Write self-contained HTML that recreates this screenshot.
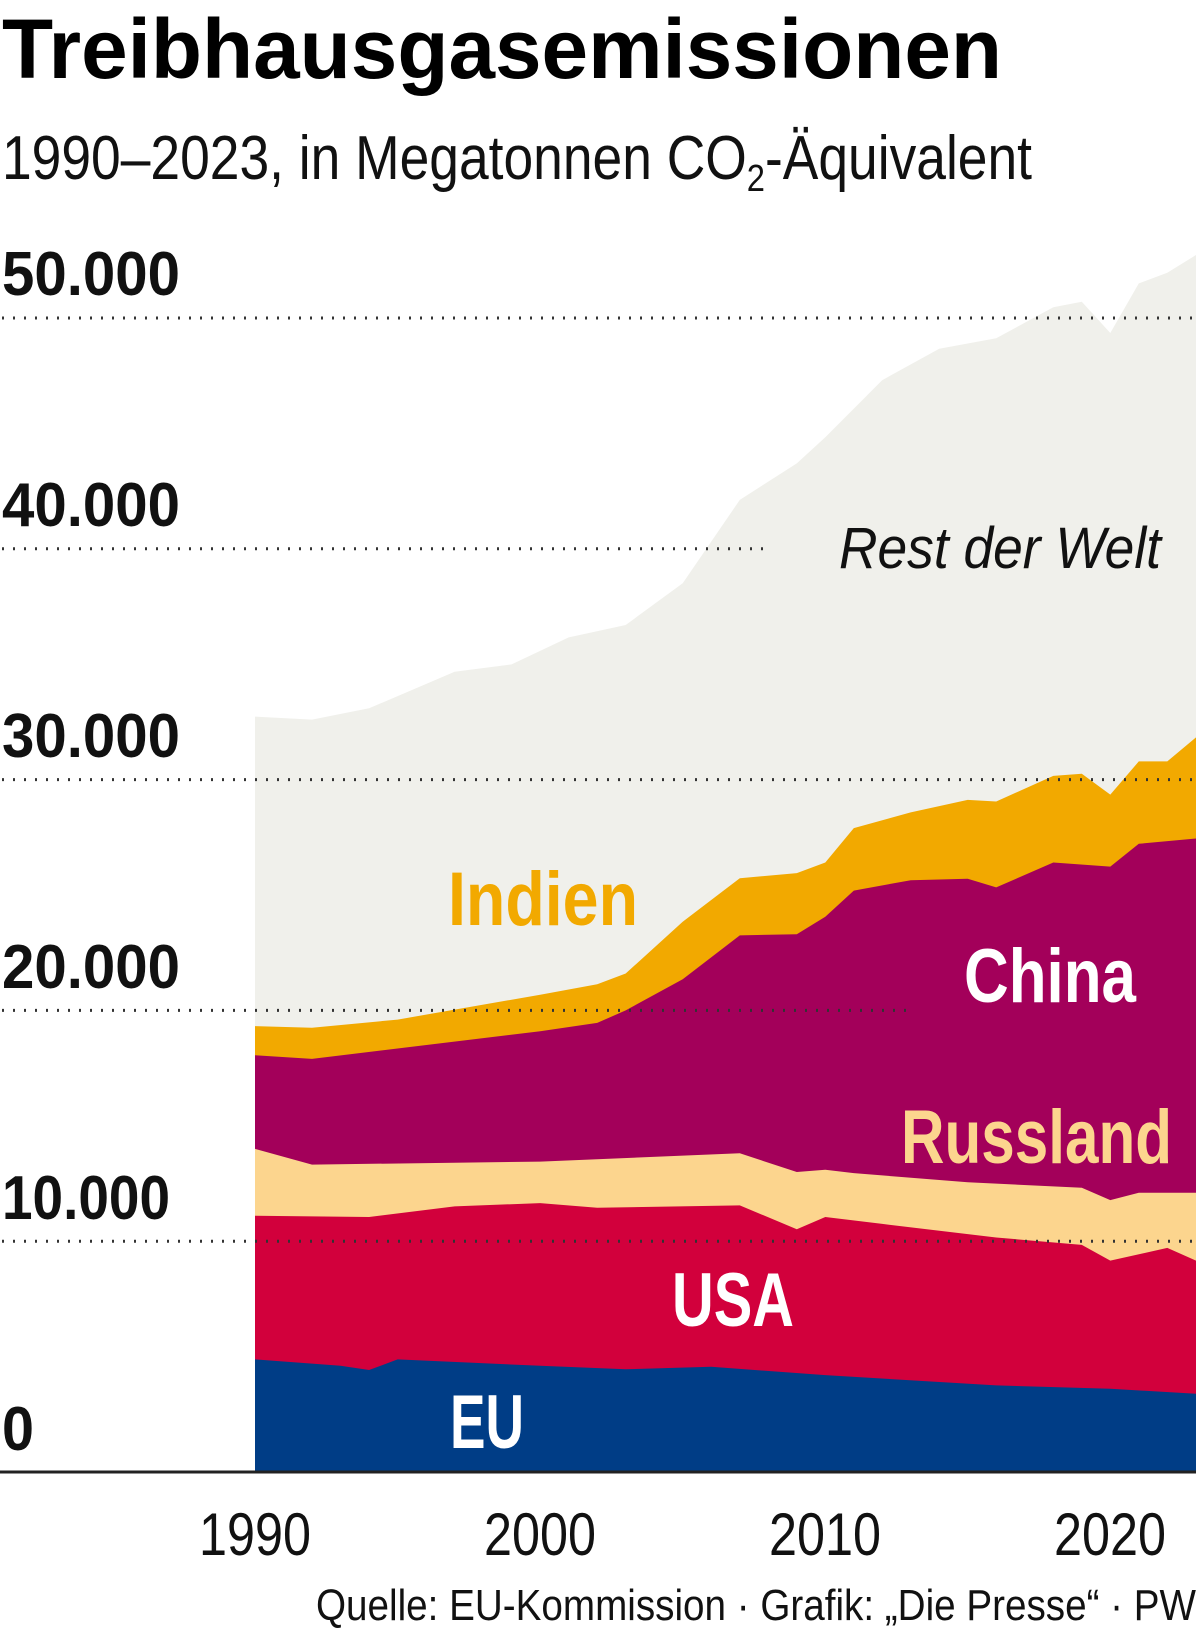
<!DOCTYPE html>
<html><head><meta charset="utf-8"><style>
html,body{margin:0;padding:0;background:#fff;}
svg{display:block;font-family:"Liberation Sans",sans-serif;}
</style></head><body>
<svg width="1200" height="1633" viewBox="0 0 1200 1633" xmlns="http://www.w3.org/2000/svg">
<text x="2" y="78" font-size="84" font-weight="bold" textLength="1000" lengthAdjust="spacingAndGlyphs">Treibhausgasemissionen</text>
<text x="2" y="179" font-size="62" textLength="1030" lengthAdjust="spacingAndGlyphs" fill="#111">1990–2023, in Megatonnen CO<tspan font-size="38" dy="12">2</tspan><tspan dy="-12">-Äquivalent</tspan></text>

<path fill="#f0f0eb" d="M255,1472 L255,716.6 L312,719.6 L369.1,708.3 L454.6,671.8 L511.6,664.4 L568.7,637.4 L625.7,625 L682.7,583.2 L739.8,499.9 L796.8,463.4 L825.3,437.3 L882.3,380.1 L939.2,348.7 L996.2,338.3 L1053.3,307.2 L1081.8,301.8 L1110.3,333 L1138.8,283.4 L1167.3,272.8 L1196,255 L1196,1472Z"/>
<path fill="#f2a900" d="M255,1472 L255,1026.1 L312,1027.7 L397.6,1019.6 L540.2,994.7 L597.2,984.3 L625.7,973.5 L682.7,921.8 L739.8,878.2 L796.8,873.1 L825.3,862.5 L853.8,828.1 L910.7,812.4 L967.7,799.9 L996.2,801.5 L1053.3,775.9 L1081.8,773.8 L1110.3,794.6 L1138.8,761.4 L1167.3,761.4 L1196,737.4 L1196,1472Z"/>
<path fill="#a3005a" d="M255,1472 L255,1055.2 L312,1058.9 L540.2,1031.2 L597.2,1022.9 L625.7,1010.4 L682.7,979.2 L739.8,935.4 L796.8,934.2 L825.3,916.7 L853.8,890.6 L910.7,880.2 L967.7,878.8 L996.2,887.4 L1053.3,862.5 L1110.3,866.6 L1138.8,843.8 L1196,838.5 L1196,1472Z"/>
<path fill="#fcd58e" d="M255,1472 L255,1148.9 L312,1164.6 L540.2,1161.6 L739.8,1153.3 L796.8,1172 L825.3,1169.7 L853.8,1173.1 L967.7,1182.3 L1081.8,1187.7 L1110.3,1200.1 L1138.8,1192.7 L1196,1192.7 L1196,1472Z"/>
<path fill="#d2003c" d="M255,1472 L255,1215.8 L369.1,1217 L454.6,1206.4 L540.2,1203.1 L597.2,1207.7 L739.8,1205.4 L796.8,1229.2 L825.3,1217 L882.3,1223.9 L996.2,1237.5 L1081.8,1244.9 L1110.3,1260.6 L1167.3,1247.9 L1196,1260.6 L1196,1472Z"/>
<path fill="#003d86" d="M255,1472 L255,1359.4 L340.5,1365.8 L369.1,1370 L397.6,1359.4 L540.2,1365.8 L625.7,1369.3 L711.2,1366.8 L825.3,1375.1 L996.2,1385.4 L1110.3,1388.7 L1196,1393.8 L1196,1472Z"/>

<g stroke="#333" stroke-width="3" stroke-dasharray="2 9">
<line x1="2" y1="318" x2="1196" y2="318"/>
<line x1="2" y1="548.8" x2="770" y2="548.8"/>
<line x1="2" y1="779.6" x2="1196" y2="779.6"/>
<line x1="2" y1="1010.4" x2="906" y2="1010.4"/>
<line x1="2" y1="1241.2" x2="1196" y2="1241.2"/>
</g>
<g font-size="62" fill="#111" font-weight="bold">
<text x="2" y="295" textLength="178" lengthAdjust="spacingAndGlyphs">50.000</text>
<text x="2" y="526" textLength="178" lengthAdjust="spacingAndGlyphs">40.000</text>
<text x="2" y="757" textLength="178" lengthAdjust="spacingAndGlyphs">30.000</text>
<text x="2" y="988" textLength="178" lengthAdjust="spacingAndGlyphs">20.000</text>
<text x="2" y="1219" textLength="168" lengthAdjust="spacingAndGlyphs">10.000</text>
<text x="2" y="1450" textLength="32" lengthAdjust="spacingAndGlyphs">0</text>
</g>
<line x1="0" y1="1472" x2="1196" y2="1472" stroke="#222" stroke-width="3"/>
<g font-size="60" fill="#111" text-anchor="middle">
<text x="255" y="1555" textLength="112" lengthAdjust="spacingAndGlyphs">1990</text>
<text x="540" y="1555" textLength="112" lengthAdjust="spacingAndGlyphs">2000</text>
<text x="825" y="1555" textLength="112" lengthAdjust="spacingAndGlyphs">2010</text>
<text x="1110" y="1555" textLength="112" lengthAdjust="spacingAndGlyphs">2020</text>
</g>
<text x="1196" y="1620" font-size="44" text-anchor="end" fill="#111" textLength="880" lengthAdjust="spacingAndGlyphs">Quelle: EU-Kommission · Grafik: „Die Presse“ · PW</text>
<text x="1161" y="568" font-size="58" font-style="italic" text-anchor="end" fill="#111" textLength="322" lengthAdjust="spacingAndGlyphs">Rest der Welt</text>
<g font-size="76" font-weight="bold">
<text x="448" y="925" fill="#f2a900" textLength="190" lengthAdjust="spacingAndGlyphs">Indien</text>
<text x="964" y="1002" fill="#fff" textLength="172" lengthAdjust="spacingAndGlyphs">China</text>
<text x="901" y="1163" fill="#fcd58e" textLength="271" lengthAdjust="spacingAndGlyphs">Russland</text>
<text x="672" y="1326" fill="#fff" textLength="122" lengthAdjust="spacingAndGlyphs">USA</text>
<text x="450" y="1448" fill="#fff" textLength="74" lengthAdjust="spacingAndGlyphs">EU</text>
</g>
</svg>
</body></html>
